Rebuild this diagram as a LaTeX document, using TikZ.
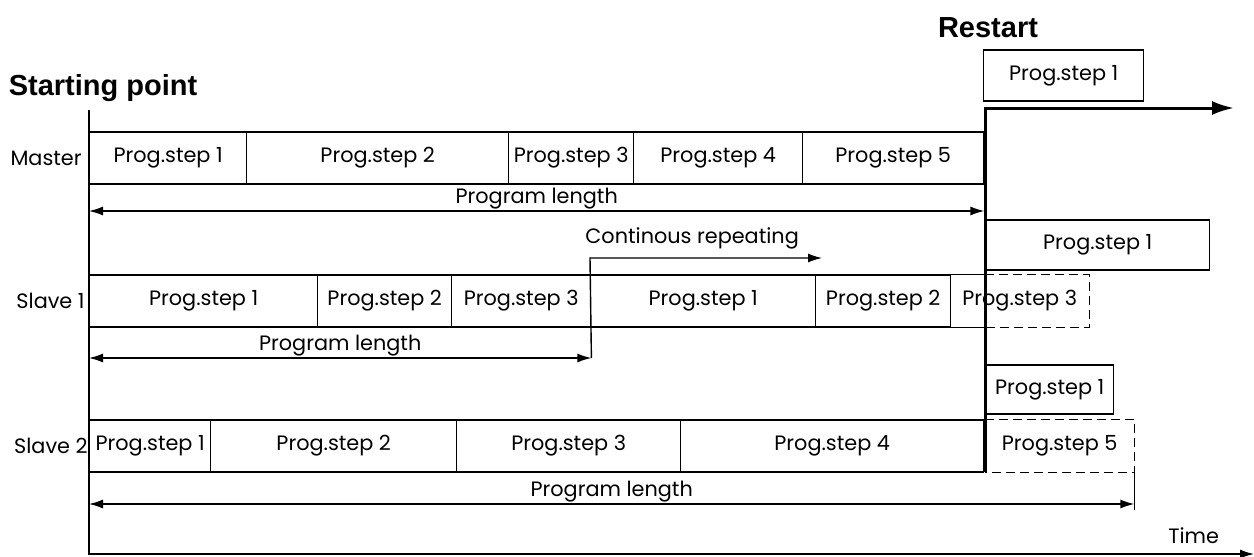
\documentclass[tikz,border=0pt]{standalone}
\usepackage{fontspec}
\setmainfont{Poppins}
\newfontfamily\boldfont{Liberation Sans}
\usetikzlibrary{arrows.meta}

\tikzset{
  cell/.style={draw, line width=0.7pt, inner sep=0pt, minimum height=26pt, anchor=west},
  rowlabel/.style={anchor=east, inner sep=1pt},
  dashline/.style={line width=0.7pt, dash pattern=on 4.5pt off 2.5pt},
  lenarrow/.style={line width=0.7pt, {Latex[length=7pt,width=4.5pt]}-{Latex[length=7pt,width=4.5pt]}},
  onearrow/.style={line width=0.7pt, -{Latex[length=7pt,width=4.5pt]}},
  thickline/.style={line width=1.5pt, -{Latex[length=11pt,width=7pt]}},
  headline/.style={font=\boldfont\bfseries\fontsize{14.5}{16}\selectfont}
}

\begin{document}
\begin{tikzpicture}[x=0.5pt, y=-0.5pt, font=\fontsize{10.4}{12}\selectfont]
  \useasboundingbox (0,0) rectangle (1254,557);
  %\draw[very thin,lightgray] (0,0) grid[step=50] (1254,557);

  % axes
  \coordinate (ax) at (89,110);
  \coordinate (o) at (89,554);
  \coordinate (tend) at (1254,554);
  \draw[onearrow] (ax) -- (o) -- (tend);
  \node[anchor=south east] (time) at (1226,551) {Time};

  % restart line
  \coordinate (rst) at (985,108);
  \coordinate (rsb) at (985,472);
  \coordinate (rend) at (1234,108);
  \draw[thickline] (rsb) -- (rst) -- (rend);
  \node[headline] (restart) at (988,28) {Restart};
  \node[headline] (start) at (103,88) {Starting point};

  % master
  \node[rowlabel] (master) at (84,158) {Master};
  \foreach \a/\b/\n [count=\i, evaluate=\b as \w using (\b-\a)/2] in
      {89/246/1, 246/508/2, 508/633/3, 633/802/4, 802/983/5}
    \node[cell, minimum width=\w pt] (m\i) at (\a,158) {Prog.step \n};
  \node[cell, minimum width=80pt, minimum height=25.5pt] (r0) at (983,75.5) {Prog.step 1};
  \draw[lenarrow] (m1.south west |- 0,211) -- node[above=-2.5pt] (ml) {Program length} (m5.south east |- 0,211);

  % slave 1
  \node[rowlabel] (slave1) at (87,301) {Slave 1};
  \foreach \a/\b/\n [count=\i, evaluate=\b as \w using (\b-\a)/2] in
      {89/317/1, 317/451/2, 451/590/3, 590/815/1, 815/950/2}
    \node[cell, minimum width=\w pt] (s\i) at (\a,301) {Prog.step \n};
  \node[cell, draw=none, minimum width=69pt] (s6) at (950,301) {Prog.step 3};
  \draw[line width=0.7pt] (s5.north east) -- (s6.north -| rst)
    (s5.south east) -- (s6.south -| rst);
  \draw[dashline] (s6.north -| rst) -- (s6.north east) -- (s6.south east) -- (s6.south -| rst);
  \node[cell, minimum width=112pt, minimum height=25pt] (r1) at (985,245) {Prog.step 1};
  \draw[lenarrow] (s1.south west |- 0,358) -- node[above=-2.5pt] (sl) {Program length} (s3.south east |- 0,358);
  \draw[onearrow] (s3.south east |- 0,358) -- (s4.north west |- 0,258) coordinate (cr) -- (822,258);
  \node[anchor=south west, inner sep=1pt] (cont) at (583,252) {Continous repeating};

  % slave 2
  \node[rowlabel] (slave2) at (90,446) {Slave 2};
  \foreach \a/\b/\n [count=\i, evaluate=\b as \w using (\b-\a)/2] in
      {89/210/1, 210/456/2, 456/680/3, 680/983/4}
    \node[cell, minimum width=\w pt] (t\i) at (\a,446) {Prog.step \n};
  \node[cell, draw=none, minimum width=74pt] (t5) at (985,446) {Prog.step 5};
  \draw[dashline] (t5.north west) -- (t5.north east) -- (t5.south east) -- (t5.south west);
  \node[cell, minimum width=64pt, minimum height=24.5pt] (r2) at (985,389.5) {Prog.step 1};
  \draw[line width=0.7pt] (t5.south east) -- ++(0,37);
  \draw[lenarrow] (t1.south west |- 0,504) -- node[above=-2.5pt] (tl) {Program length} (t5.south east |- 0,504);
\end{tikzpicture}
\end{document}
